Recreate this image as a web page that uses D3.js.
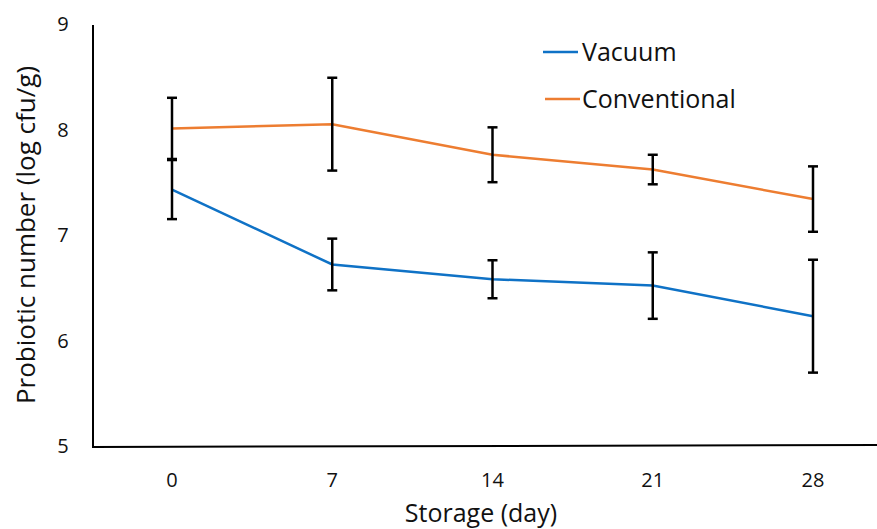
<!DOCTYPE html>
<html>
<head>
<meta charset="utf-8">
<script src="https://cdn.jsdelivr.net/npm/d3@7"></script>
<style>
  html, body { margin: 0; padding: 0; background: #fff; }
  svg { display: block; font-family: "Open Sans", "DejaVu Sans", sans-serif; }
</style>
</head>
<body>
<svg id="chart" width="877" height="529"></svg>
<script>
// Storage days (categories)
const days = ["0", "7", "14", "21", "28"];
// Mean probiotic counts (log cfu/g)
const vacuum = [7.44, 6.73, 6.59, 6.53, 6.24];
const conventional = [8.02, 8.06, 7.77, 7.63, 7.35];
// Standard deviations
const vacuumErr = [0.28, 0.245, 0.18, 0.315, 0.535];
const conventionalErr = [0.29, 0.44, 0.26, 0.14, 0.31];
// Y tick values
const yTicks = [5, 6, 7, 8, 9];

const series = [
  { name: "Vacuum", values: vacuum, err: vacuumErr, color: "#0F72C6" },
  { name: "Conventional", values: conventional, err: conventionalErr, color: "#ED7D31" }
];

const svg = d3.select("#chart");
const plotLeft = 93, plotBottom = 447, plotTop = 25;

const x = d3.scalePoint().domain(days).range([172, 813]);
const y = d3.scaleLinear().domain([5, 9]).range([plotBottom, plotTop]);

// Axes lines
svg.append("line").attr("x1", plotLeft).attr("x2", plotLeft).attr("y1", plotTop).attr("y2", plotBottom)
  .attr("stroke", "#000").attr("stroke-width", 2);
svg.append("line").attr("x1", plotLeft - 1).attr("x2", 877).attr("y1", plotBottom).attr("y2", plotBottom - 2)
  .attr("stroke", "#000").attr("stroke-width", 2);

// Y tick labels
svg.selectAll(".ytick").data(yTicks).join("text")
  .attr("x", 63).attr("y", d => y(d) - 1).attr("dy", "0.35em")
  .attr("text-anchor", "middle").attr("font-size", 20).attr("fill", "#111")
  .text(d => d);

// X tick labels
svg.selectAll(".xtick").data(days).join("text")
  .attr("x", d => x(d)).attr("y", 480).attr("dy", "0.35em")
  .attr("text-anchor", "middle").attr("font-size", 20).attr("fill", "#111")
  .text(d => d);

// Axis titles
svg.append("text").attr("x", 481).attr("y", 522)
  .attr("text-anchor", "middle").attr("font-size", 25).attr("fill", "#111")
  .text("Storage (day)");
svg.append("text")
  .attr("transform", "translate(35,235) rotate(-90)")
  .attr("text-anchor", "middle").attr("font-size", 26).attr("fill", "#111")
  .text("Probiotic number (log cfu/g)");

// Lines
const line = d3.line().x((d, i) => x(days[i])).y(d => y(d));
series.forEach(s => {
  svg.append("path").datum(s.values).attr("d", line)
    .attr("fill", "none").attr("stroke", s.color).attr("stroke-width", 2.5);
});

// Error bars
series.forEach(s => {
  const g = svg.append("g");
  s.values.forEach((v, i) => {
    const cx = x(days[i]);
    const y1 = y(v + s.err[i]), y2 = y(v - s.err[i]);
    g.append("line").attr("x1", cx).attr("x2", cx).attr("y1", y1).attr("y2", y2)
      .attr("stroke", "#000").attr("stroke-width", 2.5);
    [y1, y2].forEach(yy => {
      g.append("line").attr("x1", cx - 5).attr("x2", cx + 5).attr("y1", yy).attr("y2", yy)
        .attr("stroke", "#000").attr("stroke-width", 2.5);
    });
  });
});

// Legend
const legend = [
  { s: series[0], lx: 543, ly: 52 },
  { s: series[1], lx: 545, ly: 99 }
];
legend.forEach(l => {
  svg.append("line").attr("x1", l.lx).attr("x2", l.lx + 35).attr("y1", l.ly).attr("y2", l.ly)
    .attr("stroke", l.s.color).attr("stroke-width", 2.5);
  svg.append("text").attr("x", 582).attr("y", l.ly).attr("dy", "0.35em")
    .attr("font-size", 25).attr("fill", "#111").text(l.s.name);
});
</script>
</body>
</html>
